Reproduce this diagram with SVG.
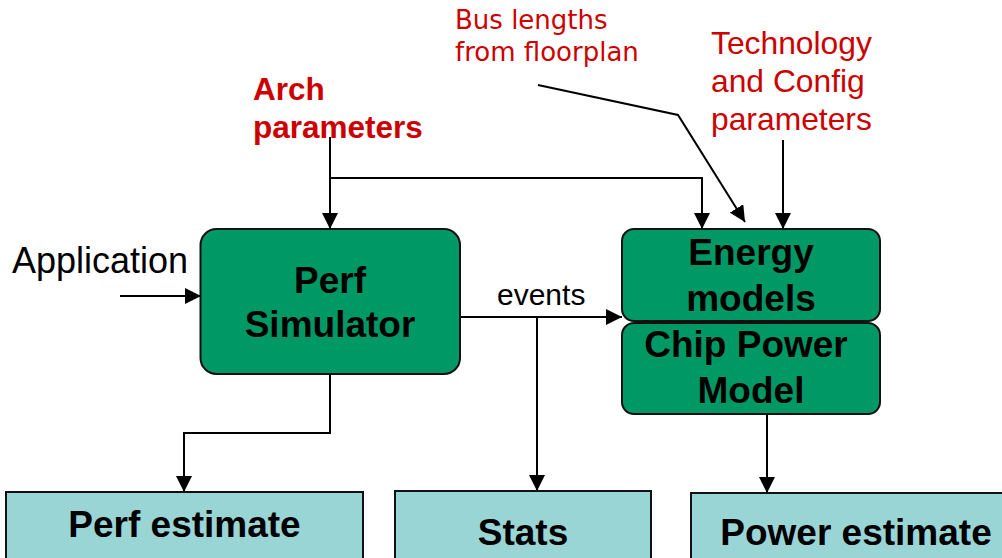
<svg xmlns="http://www.w3.org/2000/svg" width="1002" height="558" viewBox="0 0 1002 558">
  <style>
    .proc { fill: #009966; stroke: #111; stroke-width: 2; }
    .out { fill: #99d5d5; stroke: #111; stroke-width: 2; }
    .lbl { font-family: "Liberation Sans", Arial, sans-serif; font-weight: bold; font-size: 37px; fill: #000; text-anchor: middle; }
    .red { font-family: "Liberation Sans", Arial, sans-serif; fill: #cc0000; }
    .note { font-family: "DejaVu Sans", Verdana, sans-serif; font-size: 26px; fill: #cc0000; }
    .wire { fill: none; stroke: #000; stroke-width: 2; }
  </style>
  <defs>
    <marker id="arrow" viewBox="0 0 16 16" refX="16" refY="8" markerWidth="16" markerHeight="16" markerUnits="userSpaceOnUse" orient="auto">
      <path d="M0,0 L16,8 L0,16 Z" fill="#000"/>
    </marker>
  </defs>

  <rect width="1002" height="558" fill="#fff"/>

  <!-- input labels -->
  <text class="note" x="455" y="29">Bus lengths</text>
  <text class="note" x="455" y="61">from floorplan</text>
  <text class="red" x="711" y="54" font-size="31.8">Technology</text>
  <text class="red" x="711" y="92" font-size="31.8">and Config</text>
  <text class="red" x="711" y="130" font-size="31.8">parameters</text>
  <text class="red" x="253" y="100" font-size="31.5" font-weight="bold">Arch</text>
  <text class="red" x="253" y="138" font-size="31.5" font-weight="bold">parameters</text>
  <text x="12" y="273" font-family="Liberation Sans, Arial, sans-serif" font-size="36">Application</text>
  <text x="497" y="305" font-family="Liberation Sans, Arial, sans-serif" font-size="30">events</text>

  <!-- connectors -->
  <g id="connectors">
    <path class="wire" d="M330,137 V229" marker-end="url(#arrow)"/>
    <path class="wire" d="M330,178 H702 V229" marker-end="url(#arrow)"/>
    <path class="wire" d="M538,85 L678,115 L745,222" marker-end="url(#arrow)"/>
    <path class="wire" d="M783,140 V229" marker-end="url(#arrow)"/>
    <path class="wire" d="M120,296 H201" marker-end="url(#arrow)"/>
    <path class="wire" d="M460,317 H622" marker-end="url(#arrow)"/>
    <path class="wire" d="M537,317 V491" marker-end="url(#arrow)"/>
    <path class="wire" d="M330,374 V433 H184 V492" marker-end="url(#arrow)"/>
    <path class="wire" d="M767,414 V493" marker-end="url(#arrow)"/>
  </g>

  <!-- processing blocks -->
  <g id="perf-simulator">
    <rect class="proc" x="200.5" y="229" width="259.5" height="145" rx="16"/>
    <text class="lbl" x="330" y="293">Perf</text>
    <text class="lbl" x="330" y="337">Simulator</text>
  </g>
  <g id="energy-models">
    <rect class="proc" x="622" y="229" width="258" height="92" rx="12"/>
    <text class="lbl" x="751" y="265">Energy</text>
    <text class="lbl" x="751" y="311">models</text>
  </g>
  <g id="chip-power-model">
    <rect class="proc" x="622" y="323" width="258" height="91" rx="12"/>
    <text class="lbl" x="746" y="357">Chip Power</text>
    <text class="lbl" x="751" y="403">Model</text>
  </g>

  <!-- outputs -->
  <g id="perf-estimate">
    <rect class="out" x="6" y="492" width="357" height="70"/>
    <text class="lbl" x="184.5" y="537">Perf estimate</text>
  </g>
  <g id="stats">
    <rect class="out" x="395" y="491" width="256" height="70"/>
    <text class="lbl" x="523" y="545">Stats</text>
  </g>
  <g id="power-estimate">
    <rect class="out" x="691" y="493" width="320" height="70"/>
    <text class="lbl" x="856" y="545">Power estimate</text>
  </g>
</svg>
